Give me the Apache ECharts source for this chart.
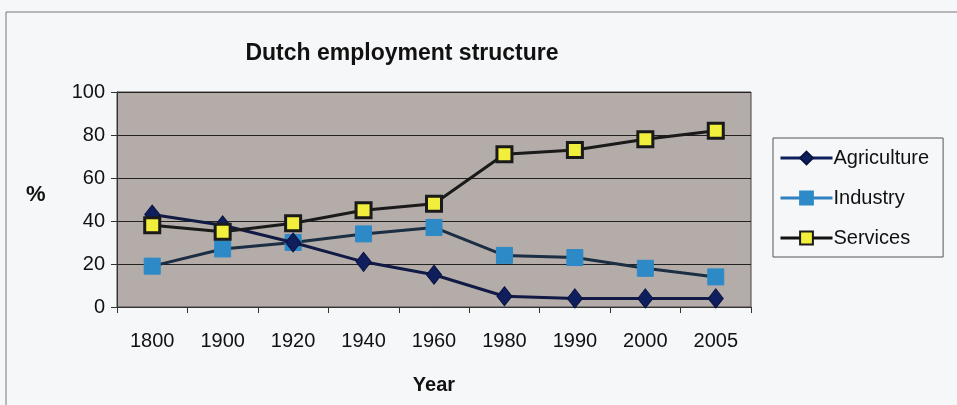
<!DOCTYPE html>
<html><head><meta charset="utf-8">
<script src="https://cdn.jsdelivr.net/npm/echarts@6/dist/echarts.min.js"></script>
<style>html,body{margin:0;padding:0;background:#f6f7f9;}#c{width:957px;height:405px;}</style>
</head><body><div id="c"></div>
<script>
const years = ['1800','1900','1920','1940','1960','1980','1990','2000','2005'];
const agriculture = [43, 38, 30, 21, 15, 5, 4, 4, 4];
const industry = [19, 27, 30, 34, 37, 24, 23, 18, 14];
const services = [38, 35, 39, 45, 48, 71, 73, 78, 82];
const yTicks = [0, 20, 40, 60, 80, 100];

const font = '"Liberation Sans", Arial, sans-serif';
const chart = echarts.init(document.getElementById('c'));
chart.setOption({
  animation: false,
  backgroundColor: '#f6f7f9',
  textStyle: {fontFamily: font},
  title: {text: 'Dutch employment structure', left: 397, top: 37, textAlign: 'center',
    textStyle: {fontSize: 23, fontWeight: 'bold', color: '#111', fontFamily: font}},
  graphic: [
    {type: 'line', shape: {x1: 6, y1: 12, x2: 957, y2: 12}, style: {stroke: '#777', lineWidth: 1}},
    {type: 'line', shape: {x1: 6, y1: 12, x2: 6, y2: 405}, style: {stroke: '#777', lineWidth: 1}},
    {type: 'text', left: 26, top: 184, style: {text: '%', fontSize: 22, fontWeight: 'bold', fill: '#111', fontFamily: font}}
  ],
  legend: {
    orient: 'vertical', left: 773, top: 138,
    padding: [10, 14, 9, 6], itemGap: 20, itemWidth: 52, itemHeight: 16,
    borderColor: '#555', borderWidth: 1, backgroundColor: '#f6f7f9',
    lineStyle: {width: 3},
    textStyle: {fontSize: 20, color: '#111', fontFamily: font, padding: [0, 0, 0, -4]},
    data: [
      {name: 'Agriculture', lineStyle: {color: '#0f1f5e', width: 3}},
      {name: 'Industry', lineStyle: {color: '#2e80c0', width: 3}},
      {name: 'Services', lineStyle: {color: '#111111', width: 3}}
    ]
  },
  grid: {left: 117, right: 206, top: 92, bottom: 98, show: true, backgroundColor: '#b3aca8', borderColor: '#444', borderWidth: 1},
  xAxis: {
    type: 'category', data: years, boundaryGap: true,
    name: 'Year', nameLocation: 'middle', nameGap: 68,
    nameTextStyle: {fontSize: 20, fontWeight: 'bold', color: '#111', fontFamily: font},
    axisLine: {lineStyle: {color: '#333'}},
    axisTick: {show: true, length: 6, inside: false, lineStyle: {color: '#333'}},
    axisLabel: {fontSize: 20, color: '#111', margin: 24, fontFamily: font}
  },
  yAxis: {
    type: 'value', min: yTicks[0], max: yTicks[yTicks.length - 1], interval: 20,
    axisLine: {show: true, lineStyle: {color: '#333'}},
    axisTick: {show: true, length: 6, lineStyle: {color: '#333'}},
    axisLabel: {fontSize: 20, color: '#111', margin: 12, fontFamily: font},
    splitLine: {lineStyle: {color: '#222', width: 1}}
  },
  series: [
    {name: 'Agriculture', type: 'line', data: agriculture, symbol: 'diamond', symbolSize: [15, 19],
      lineStyle: {color: '#111a44', width: 3}, itemStyle: {color: '#0f1f5e', borderColor: '#0a1240', borderWidth: 1}, z: 3},
    {name: 'Industry', type: 'line', data: industry, symbol: 'rect', symbolSize: 16,
      lineStyle: {color: '#1b2e44', width: 3}, itemStyle: {color: '#2e8ac6', borderColor: '#2e8ac6', borderWidth: 1}, z: 2},
    {name: 'Services', type: 'line', data: services, symbol: 'rect', symbolSize: 15,
      lineStyle: {color: '#1a1a1a', width: 3}, itemStyle: {color: '#f2ee3c', borderColor: '#1a1a1a', borderWidth: 3}, z: 4}
  ]
});
</script></body></html>
